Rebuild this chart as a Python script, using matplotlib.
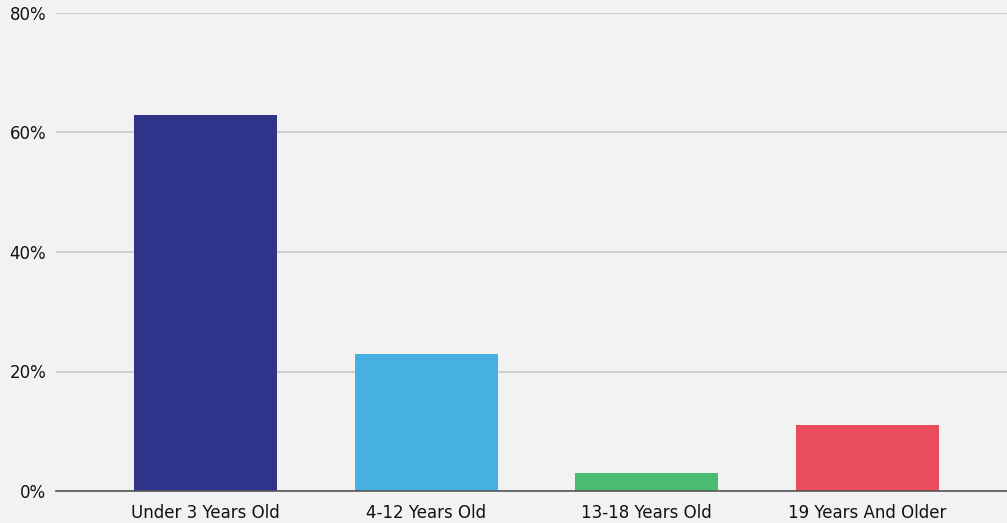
import matplotlib
matplotlib.use('Agg')
import matplotlib.pyplot as plt
from matplotlib.ticker import FuncFormatter

categories = ['Under 3 Years Old', '4-12 Years Old', '13-18 Years Old', '19 Years And Older']
shares = [63, 23, 3, 11]
colours = ['#2e3489', '#47b0e2', '#49bc72', '#e94d5b']
y_ticks = [0, 20, 40, 60, 80]

bg = '#f2f2f2'

fig = plt.figure(figsize=(10.07, 5.23), dpi=100, facecolor=bg)
ax = fig.add_axes([56 / 1007, 32 / 523, 951 / 1007, 478 / 523])
ax.set_facecolor(bg)

x = range(len(categories))
ax.bar(x, shares, width=0.648, color=colours, zorder=3)

ax.set_xlim(-0.677, 3.632)
ax.set_ylim(0, 80)
ax.set_yticks(y_ticks)
ax.yaxis.set_major_formatter(FuncFormatter(lambda v, p: '%d%%' % v))
ax.set_xticks(list(x))
ax.set_xticklabels(categories)

ax.grid(axis='y', color='#c6c6c6', linewidth=1.2, zorder=0)
for s in ['top', 'right', 'left']:
    ax.spines[s].set_visible(False)
ax.spines['bottom'].set_color('#555555')
ax.spines['bottom'].set_linewidth(1.2)
ax.spines['bottom'].set_zorder(4)

ax.tick_params(axis='both', length=0, labelsize=12, colors='#111111')
ax.tick_params(axis='y', pad=7)
ax.tick_params(axis='x', pad=9)

plt.savefig('out.png', dpi=100, facecolor=bg)
